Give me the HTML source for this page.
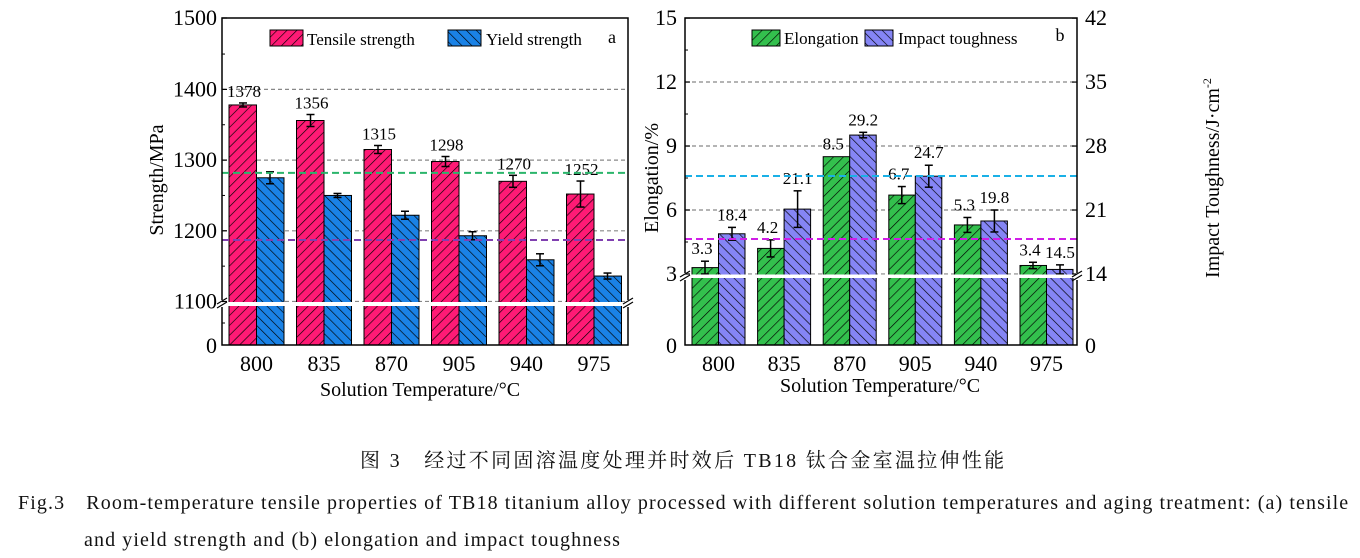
<!DOCTYPE html>
<html><head><meta charset="utf-8"><style>
body{margin:0;background:#fff;width:1360px;height:558px;overflow:hidden}
svg{position:absolute;left:0;top:0}
.t{font-family:"Liberation Serif","Noto Serif CJK SC",serif;fill:#000}
.cap{position:absolute;font-family:"Liberation Serif","Noto Serif CJK SC",serif;font-size:20px;color:#111;white-space:nowrap}
</style></head><body>
<svg id="s" width="1360" height="558" xmlns="http://www.w3.org/2000/svg">
<defs>
<pattern id="pf" width="7" height="7" patternUnits="userSpaceOnUse" patternTransform="rotate(45)"><rect width="7" height="7" fill="#ff1a75"/><line x1="0" y1="0" x2="0" y2="7" stroke="#000" stroke-width="1.3"/></pattern>
<pattern id="pb" width="7" height="7" patternUnits="userSpaceOnUse" patternTransform="rotate(-45)"><rect width="7" height="7" fill="#1a82e6"/><line x1="0" y1="0" x2="0" y2="7" stroke="#000" stroke-width="1.3"/></pattern>
<pattern id="pg" width="7" height="7" patternUnits="userSpaceOnUse" patternTransform="rotate(45)"><rect width="7" height="7" fill="#33c04d"/><line x1="0" y1="0" x2="0" y2="7" stroke="#000" stroke-width="1.3"/></pattern>
<pattern id="pv" width="7" height="7" patternUnits="userSpaceOnUse" patternTransform="rotate(-45)"><rect width="7" height="7" fill="#8585f5"/><line x1="0" y1="0" x2="0" y2="7" stroke="#000" stroke-width="1.3"/></pattern>
</defs>
<g id="g"></g>
</svg>
<div class="cap" style="left:360px;top:444px;letter-spacing:2.3px">图 3　经过不同固溶温度处理并时效后 TB18 钛合金室温拉伸性能</div>
<div class="cap" style="left:18px;top:486px;letter-spacing:1.1px">Fig.3　Room-temperature tensile properties of TB18 titanium alloy processed with different solution temperatures and aging treatment: (a) tensile</div>
<div class="cap" style="left:84px;top:529px;letter-spacing:1.1px">and yield strength and (b) elongation and impact toughness</div>
<script>
(function(){
let h='';
const T=(x,y,s,sz,a,extra)=>{h+=`<text class="t" x="${x}" y="${y}" font-size="${sz}" text-anchor="${a||'middle'}" ${extra||''}>${s}</text>`};
const L=(x1,y1,x2,y2,c,w,d)=>{h+=`<line x1="${x1}" y1="${y1}" x2="${x2}" y2="${y2}" stroke="${c}" stroke-width="${w}" ${d?`stroke-dasharray="${d}"`:''}/>`};
const R=(x,y,w,hh,f)=>{h+=`<rect x="${x}" y="${y}" width="${w}" height="${hh}" fill="${f}" stroke="#000" stroke-width="1"/>`};
const E=(x,y,e)=>{L(x,y-e,x,y+e,'#000',1.5);L(x-4,y-e,x+4,y-e,'#000',1.5);L(x-4,y+e,x+4,y+e,'#000',1.5)};
const ax0=222,ax1=628,tp=18,bot=345;
const ya=v=>301.5-(v-1100)*0.707;
[1400,1300,1200,1100].forEach(v=>L(ax0,ya(v),ax1,ya(v),'#888',1.2,'4,3'));
const ts=[1378,1356,1315,1298,1270,1252],ys=[1275,1250,1222,1193,1159,1136];
const te=[2,6,4,5,6,13],ye=[6,2,4,4,6,3];
const labs=['800','835','870','905','940','975'];
for(let i=0;i<6;i++){const x=229+i*67.5;
R(x,ya(ts[i]),27.5,bot-ya(ts[i]),'url(#pf)');R(x+27.5,ya(ys[i]),27.5,bot-ya(ys[i]),'url(#pb)');
E(x+14,ya(ts[i]),te[i]);E(x+41,ya(ys[i]),ye[i]);
T(x+15,ya(ts[i])-te[i]-6,ts[i],17);T(x+27.5,371,labs[i],22);}
L(ax0,ya(1282),ax1,ya(1282),'#2bb56b',2,'7,4');L(ax0,ya(1187),ax1,ya(1187),'#8040b0',2,'7,4');
h+=`<rect x="${ax0+1}" y="302" width="${ax1-ax0-2}" height="4" fill="#fff"/>`;
h+=`<rect x="${ax0}" y="${tp}" width="${ax1-ax0}" height="${bot-tp}" fill="none" stroke="#000" stroke-width="1.5"/>`;
h+=`<rect x="${ax0-3}" y="300" width="6" height="7" fill="#fff"/><rect x="${ax1-3}" y="300" width="6" height="7" fill="#fff"/>`;
L(ax0-5,304,ax0+5,298,'#000',1.2);L(ax0-5,308,ax0+5,302,'#000',1.2);L(ax1-5,304,ax1+5,298,'#000',1.2);L(ax1-5,308,ax1+5,302,'#000',1.2);
[[1500,18],[1400,ya(1400)],[1300,ya(1300)],[1200,ya(1200)],[1100,ya(1100)]].forEach(([v,y])=>{L(ax0,y,ax0+5,y,'#000',1.2);T(ax0-5,y+7,v,22,'end')});
[1450,1350,1250,1150].forEach(v=>L(ax0,ya(v),ax0+3,ya(v),'#000',1));
L(ax0,323,ax0+3,323,'#000',1);
T(ax0-5,353,'0',22,'end');
T(420,396,'Solution Temperature/°C',20);
T(0,0,'Strength/MPa',20,'middle','transform="translate(163,180) rotate(-90)"');
R(270,30,33,16,'url(#pf)');T(307,45,'Tensile strength',17,'start');
R(448,30,33,16,'url(#pb)');T(486,45,'Yield strength',17,'start');
T(612,43,'a',18);
const bx0=685,bx1=1077;
const ye2=v=>274-(v-3)*21.33,yi=v=>274-(v-14)*9.14;
[12,9,6,3].forEach(v=>L(bx0,ye2(v),bx1,ye2(v),'#888',1.2,'4,3'));
const el=[3.3,4.2,8.5,6.7,5.3,3.4],im=[18.4,21.1,29.2,24.7,19.8,14.5];
const ee=[0.3,0.4,0,0.4,0.35,0.15],ie=[0.7,2,0.3,1.2,1.2,0.5];
for(let i=0;i<6;i++){const x=692+i*65.6;
R(x,ye2(el[i]),26.5,bot-ye2(el[i]),'url(#pg)');R(x+26.5,yi(im[i]),26.5,bot-yi(im[i]),'url(#pv)');
if(ee[i])E(x+13,ye2(el[i]),ee[i]*21.33);E(x+40,yi(im[i]),ie[i]*9.14);
T(x+10,(i==2?ye2(el[i])-7:ye2(el[i])-ee[i]*21.33-7),el[i],17);
T(x+40,yi(im[i])-ie[i]*9.14-7,im[i],17);
T(x+26.5,371,labs[i],22);}
L(bx0,176,bx1,176,'#1ab0e6',2,'7,4');L(bx0,239,bx1,239,'#d01ee6',2,'7,4');
h+=`<rect x="${bx0+1}" y="274.5" width="${bx1-bx0-2}" height="3.5" fill="#fff"/>`;
h+=`<rect x="${bx0}" y="${tp}" width="${bx1-bx0}" height="${bot-tp}" fill="none" stroke="#000" stroke-width="1.5"/>`;
h+=`<rect x="${bx0-3}" y="273" width="6" height="7" fill="#fff"/><rect x="${bx1-3}" y="273" width="6" height="7" fill="#fff"/>`;
L(bx0-5,277,bx0+5,271,'#000',1.2);L(bx0-5,281,bx0+5,275,'#000',1.2);L(bx1-5,277,bx1+5,271,'#000',1.2);L(bx1-5,281,bx1+5,275,'#000',1.2);
[15,12,9,6,3].forEach(v=>{const y=ye2(v);L(bx0,y,bx0+5,y,'#000',1.2);T(bx0-8,y+7,v,22,'end')});
[13.5,10.5,7.5,4.5].forEach(v=>L(bx0,ye2(v),bx0+3,ye2(v),'#000',1));
[42,35,28,21,14].forEach(v=>{const y=yi(v);L(bx1-5,y,bx1,y,'#000',1.2);T(bx1+8,y+7,v,22,'start')});
T(bx0-8,353,'0',22,'end');T(bx1+8,353,'0',22,'start');
T(880,392,'Solution Temperature/°C',20);
T(0,0,'Elongation/%',20,'middle','transform="translate(658,178) rotate(-90)"');
T(0,0,'Impact Toughness/J·cm<tspan dy="-8" font-size="12">-2</tspan>',20,'middle','transform="translate(1219,178) rotate(-90)"');
R(752,30,28,16,'url(#pg)');T(784,44,'Elongation',17,'start');
R(865,30,28,16,'url(#pv)');T(898,44,'Impact toughness',17,'start');
T(1060,41,'b',18);
document.getElementById('g').innerHTML=h;
})();
</script>
</body></html>
